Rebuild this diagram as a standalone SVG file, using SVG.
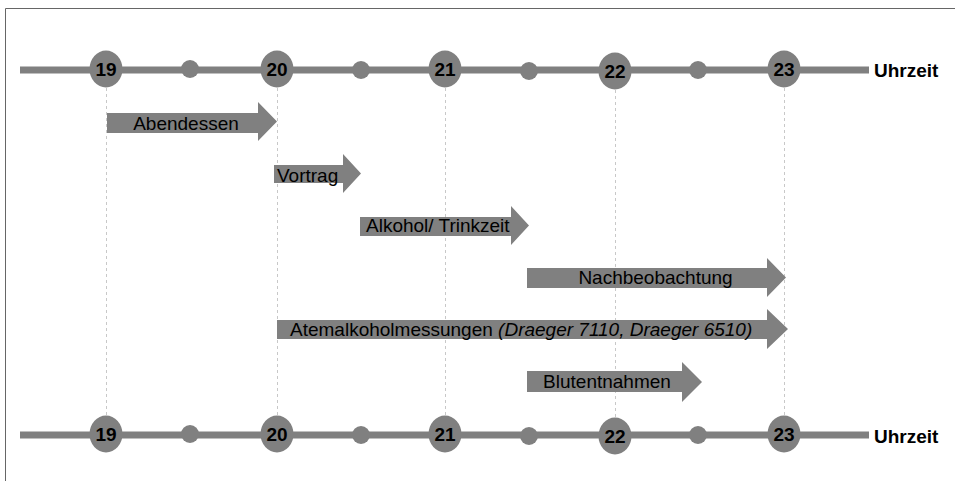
<svg xmlns="http://www.w3.org/2000/svg" width="955" height="481" viewBox="0 0 955 481">
<style>
.axis{stroke:#808080;stroke-width:7;fill:none}
.big{fill:#808080}
.small{fill:#808080}
.num{font-family:"Liberation Sans",Arial,sans-serif;font-weight:bold;font-size:19px;fill:#000;text-anchor:middle}
.uhr{font-family:"Liberation Sans",Arial,sans-serif;font-weight:bold;font-size:19px;fill:#000}
.guide{stroke:#c8c8c8;stroke-width:1;stroke-dasharray:3,3;fill:none}
.arrow{fill:#808080}
.lbl{font-family:"Liberation Sans",Arial,sans-serif;font-size:19px;fill:#000}
.frame{stroke:#666;stroke-width:1;fill:none}
</style>
<rect width="955" height="481" fill="#fff"/>
<path class="frame" d="M5.5,481 V8.5 H955"/>
<g id="connectors">
<line class="guide" x1="106.5" y1="88" x2="106.5" y2="416"/>
<line class="guide" x1="277.5" y1="88" x2="277.5" y2="416"/>
<line class="guide" x1="445.5" y1="88" x2="445.5" y2="416"/>
<line class="guide" x1="615.5" y1="90" x2="615.5" y2="418"/>
<line class="guide" x1="784.5" y1="88" x2="784.5" y2="416"/>
</g>
<g id="timeline-top">
<line class="axis" x1="20" y1="70" x2="869" y2="70"/>
<circle class="small" cx="190" cy="69" r="9"/>
<circle class="small" cx="361" cy="70" r="9"/>
<circle class="small" cx="529" cy="71" r="9"/>
<circle class="small" cx="698" cy="70" r="9"/>
<ellipse class="big" cx="106" cy="69" rx="16.5" ry="18.5"/>
<ellipse class="big" cx="277" cy="69" rx="16.5" ry="18.5"/>
<ellipse class="big" cx="445" cy="69" rx="16.5" ry="18.5"/>
<ellipse class="big" cx="615" cy="71" rx="16.5" ry="18.5"/>
<ellipse class="big" cx="784" cy="69" rx="16.5" ry="18.5"/>
<text class="num" x="106" y="76">19</text>
<text class="num" x="277" y="76">20</text>
<text class="num" x="445" y="76">21</text>
<text class="num" x="615" y="78">22</text>
<text class="num" x="784" y="76">23</text>
<text class="uhr" x="874" y="77">Uhrzeit</text>
</g>
<g id="timeline-bottom">
<line class="axis" x1="20" y1="435" x2="869" y2="435"/>
<circle class="small" cx="190" cy="434" r="9"/>
<circle class="small" cx="361" cy="435" r="9"/>
<circle class="small" cx="529" cy="436" r="9"/>
<circle class="small" cx="698" cy="435" r="9"/>
<ellipse class="big" cx="106" cy="434" rx="16.5" ry="18.5"/>
<ellipse class="big" cx="277" cy="434" rx="16.5" ry="18.5"/>
<ellipse class="big" cx="445" cy="434" rx="16.5" ry="18.5"/>
<ellipse class="big" cx="615" cy="436" rx="16.5" ry="18.5"/>
<ellipse class="big" cx="784" cy="434" rx="16.5" ry="18.5"/>
<text class="num" x="106" y="441">19</text>
<text class="num" x="277" y="441">20</text>
<text class="num" x="445" y="441">21</text>
<text class="num" x="615" y="443">22</text>
<text class="num" x="784" y="441">23</text>
<text class="uhr" x="874" y="443">Uhrzeit</text>
</g>
<g id="abendessen">
<polygon class="arrow" points="107,113 258,113 258,102 277,121.5 258,141 258,133 107,133"/>
<text class="lbl" x="186" y="130" text-anchor="middle">Abendessen</text>
</g>
<g id="vortrag">
<polygon class="arrow" points="274,165 343,165 343,154 361,173.5 343,193 343,183 274,183"/>
<text class="lbl" x="277" y="182">Vortrag</text>
</g>
<g id="alkohol">
<polygon class="arrow" points="360,217 511,217 511,206 529,225.5 511,245 511,236 360,236"/>
<text class="lbl" x="366" y="232">Alkohol/ Trinkzeit</text>
</g>
<g id="nachbeobachtung">
<polygon class="arrow" points="527,268 767,268 767,258 786,277.5 767,297 767,288 527,288"/>
<text class="lbl" x="655.5" y="284" text-anchor="middle">Nachbeobachtung</text>
</g>
<g id="atemalkohol">
<polygon class="arrow" points="277,320 767,320 767,309 788,329 767,349 767,339 277,339"/>
<text class="lbl" x="290" y="336">Atemalkoholmessungen <tspan font-style="italic">(Draeger 7110, Draeger 6510)</tspan></text>
</g>
<g id="blutentnahmen">
<polygon class="arrow" points="527,371 682,371 682,362 702,382 682,402 682,392 527,392"/>
<text class="lbl" x="607" y="388" text-anchor="middle">Blutentnahmen</text>
</g>
</svg>
